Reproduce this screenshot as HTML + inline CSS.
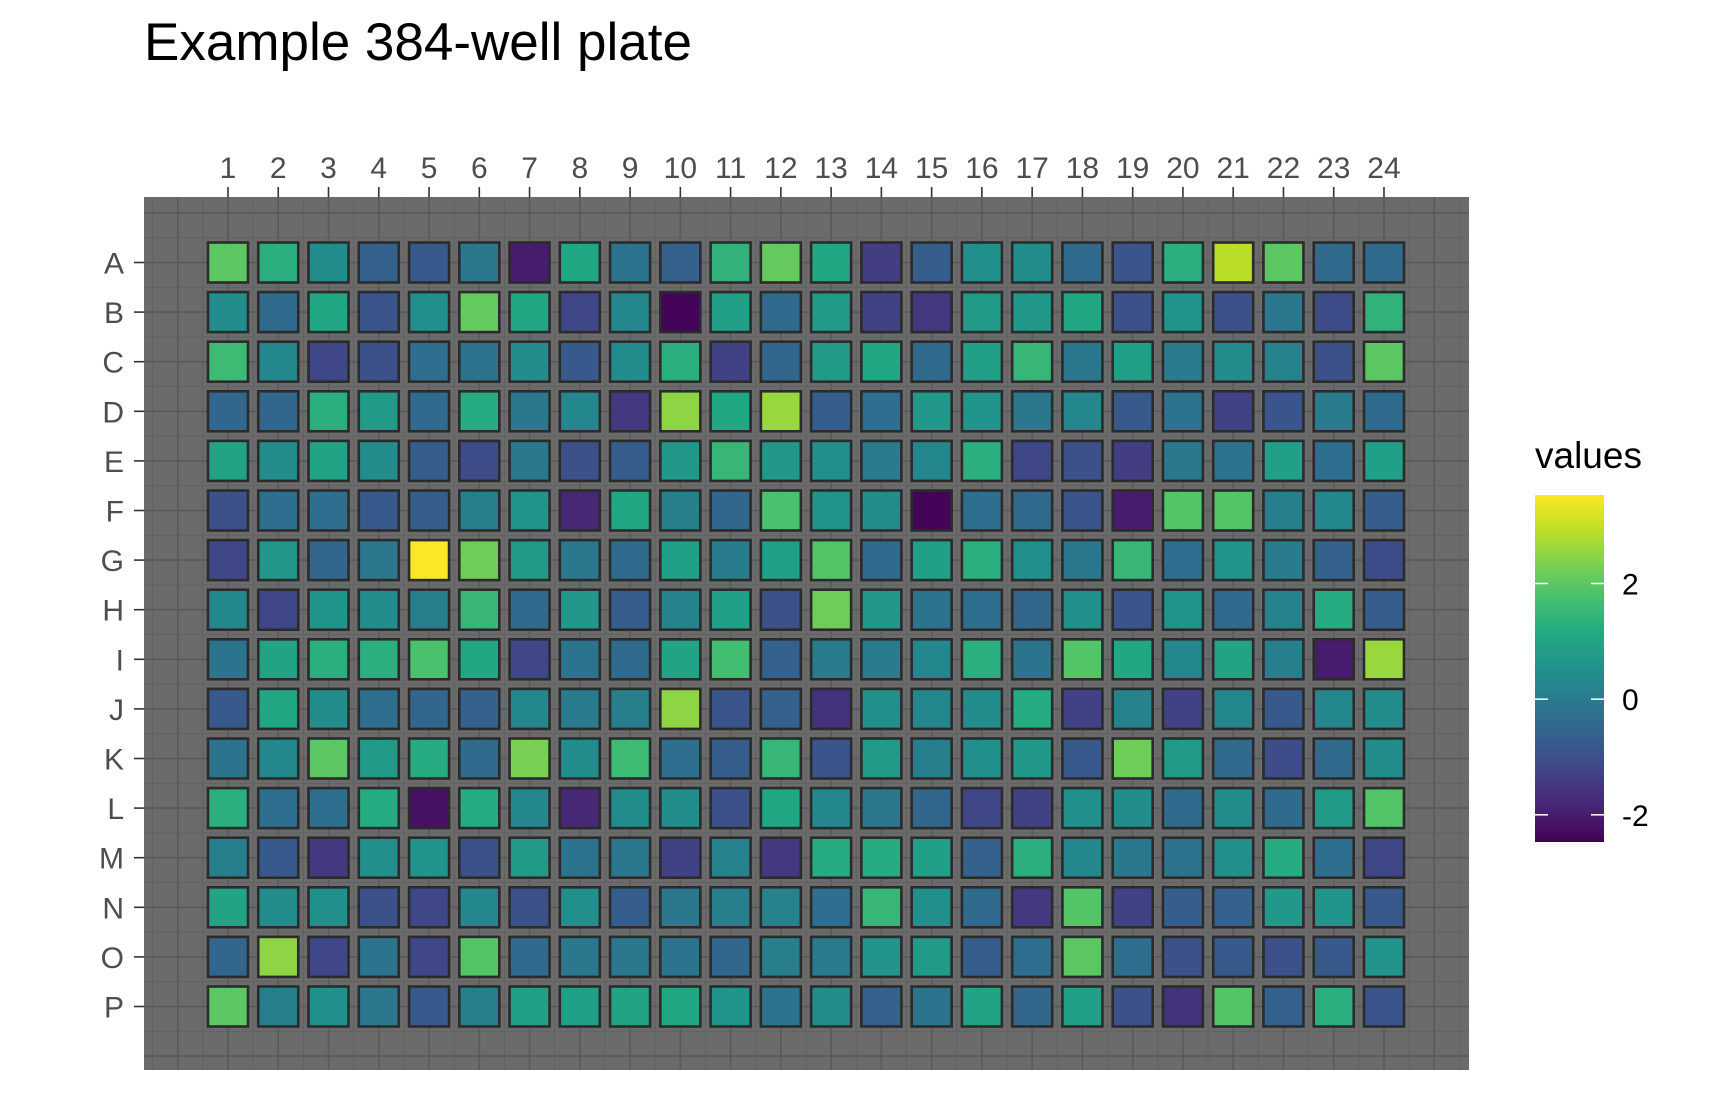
<!DOCTYPE html>
<html><head><meta charset="utf-8"><style>
html,body{margin:0;padding:0;background:#fff;}
svg{display:block;font-family:"Liberation Sans",sans-serif;}
</style></head><body>
<svg id="chart" width="1728" height="1094" viewBox="0 0 1728 1094">
<text x="144" y="60" font-size="53" fill="#000">Example 384-well plate</text>
<g id="panel"></g>
<g id="legend"></g>
</svg>
<script>
const rowLabels = ["A","B","C","D","E","F","G","H","I","J","K","L","M","N","O","P"];
const colLabels = ["1","2","3","4","5","6","7","8","9","10","11","12","13","14","15","16","17","18","19","20","21","22","23","24"];
const legendTicks = [2,0,-2];
const valueRange = [-2.47, 3.53];
const values = [
[2.0,1.3,0.4,-0.6,-0.8,-0.1,-2.0,1.1,-0.2,-0.6,1.4,2.1,1.1,-1.4,-0.7,0.5,0.4,-0.4,-0.9,1.3,2.9,2.0,-0.4,-0.4],
[0.4,-0.4,1.1,-0.9,0.5,2.1,1.1,-1.2,0.3,-2.4,0.9,-0.4,0.8,-1.3,-1.5,0.8,0.7,1.1,-1.0,0.6,-1.0,-0.1,-1.1,1.4],
[1.6,0.3,-1.2,-1.0,-0.3,-0.2,0.4,-0.8,0.4,1.3,-1.3,-0.5,0.8,1.1,-0.4,0.9,1.5,-0.1,0.9,0.0,0.4,0.2,-1.0,2.0],
[-0.5,-0.5,1.3,0.8,-0.4,1.2,-0.1,0.3,-1.5,2.5,1.1,2.6,-0.7,-0.3,0.7,0.6,-0.1,0.3,-0.8,-0.2,-1.3,-0.9,0.0,-0.4],
[1.0,0.4,1.0,0.4,-0.7,-1.1,-0.1,-1.0,-0.7,0.7,1.5,0.7,0.5,0.0,0.3,1.3,-1.2,-1.0,-1.4,-0.1,-0.2,0.9,-0.3,0.9],
[-1.0,-0.3,-0.3,-0.8,-0.7,0.1,0.6,-1.8,1.1,0.1,-0.5,1.8,0.6,0.4,-2.4,-0.3,-0.4,-0.9,-2.0,1.9,1.9,0.1,0.3,-0.7],
[-1.2,0.7,-0.5,-0.1,3.5,2.2,0.8,-0.1,-0.4,0.9,0.0,0.9,1.9,-0.4,0.9,1.3,0.5,-0.1,1.5,-0.3,0.6,0.0,-0.6,-1.1],
[0.3,-1.2,0.6,0.4,0.1,1.5,-0.4,0.7,-0.7,0.2,0.9,-1.0,2.2,0.7,-0.2,-0.3,-0.5,0.5,-0.9,0.6,-0.4,0.2,1.2,-0.7],
[-0.2,1.0,1.3,1.3,1.8,1.1,-1.2,-0.2,-0.4,1.0,1.7,-0.6,0.0,0.0,0.3,1.3,-0.2,1.9,1.1,0.3,1.0,0.1,-2.0,2.6],
[-0.8,1.1,0.4,-0.3,-0.5,-0.6,0.3,0.0,0.1,2.5,-0.9,-0.6,-1.6,0.5,0.3,0.4,1.2,-1.3,0.2,-1.3,0.3,-0.8,0.3,0.4],
[-0.2,0.3,2.0,0.8,1.2,-0.4,2.3,0.4,1.6,-0.3,-0.7,1.5,-0.9,0.8,0.1,0.5,0.7,-0.8,2.2,0.8,-0.4,-1.1,-0.4,0.4],
[1.3,-0.3,-0.3,1.2,-2.2,1.2,0.3,-1.8,0.4,0.4,-1.0,1.1,0.3,-0.1,-0.5,-1.2,-1.3,0.5,0.4,-0.4,0.4,-0.4,0.8,1.9],
[0.1,-0.8,-1.5,0.5,0.6,-1.0,0.8,-0.2,-0.1,-1.3,0.2,-1.5,1.2,1.2,0.9,-0.6,1.3,0.3,-0.1,-0.2,0.5,1.2,-0.3,-1.2],
[1.0,0.4,0.5,-1.0,-1.2,0.3,-1.0,0.5,-0.7,-0.1,0.1,0.2,-0.3,1.5,0.5,-0.4,-1.5,1.9,-1.3,-0.7,-0.6,0.7,0.6,-0.8],
[-0.5,2.5,-1.2,-0.2,-1.2,1.9,-0.4,-0.1,-0.1,-0.2,-0.5,0.1,0.0,0.6,0.8,-0.7,-0.3,2.0,-0.3,-1.0,-0.8,-1.0,-0.8,0.6],
[2.0,0.1,0.5,-0.1,-0.8,0.1,0.9,0.9,1.0,1.1,0.6,-0.2,0.4,-0.6,-0.2,1.0,-0.5,0.9,-1.0,-1.6,1.9,-0.6,1.3,-0.9]
];

const NS="http://www.w3.org/2000/svg";
const vir=["#440154","#482475","#414487","#355f8d","#2a788e","#21918c","#22a884","#44bf70","#7ad151","#bddf26","#fde725"];
function hex(c){return [1,3,5].map(i=>parseInt(c.substr(i,2),16));}
function viridis(t){t=Math.max(0,Math.min(1,t));const p=t*(vir.length-1);const i=Math.min(Math.floor(p),vir.length-2);const f=p-i;const a=hex(vir[i]),b=hex(vir[i+1]);return "rgb("+a.map((v,k)=>Math.round(v+(b[k]-v)*f)).join(",")+")";}
function colorOf(v){return viridis((v-valueRange[0])/(valueRange[1]-valueRange[0]));}
const PX0=144,PX1=1469,PY0=197,PY1=1070;
const xs=c=>228+(c-1)*50.26;
const ys=r=>262.5+r*49.6;
function mk(tag,attrs,parent){const e=document.createElementNS(NS,tag);for(const k in attrs)e.setAttribute(k,attrs[k]);parent.appendChild(e);return e;}
const panel=document.getElementById("panel");
mk("rect",{x:PX0,y:PY0,width:PX1-PX0,height:PY1-PY0,fill:"#6b6b6b"},panel);
for(let c=-0.5;c<=25.5;c+=0.5){const x=xs(c);if(x<PX0||x>PX1)continue;const major=Number.isInteger(c);const l=mk("line",{x1:x,x2:x,y1:PY0,y2:PY1,stroke:major?"#595959":"#616161","stroke-width":major?1.6:0.9},panel);}
for(let r=-1;r<=17;r+=0.5){const y=ys(r);if(y<PY0||y>PY1)continue;const major=Number.isInteger(r);const l=mk("line",{y1:y,y2:y,x1:PX0,x2:PX1,stroke:major?"#595959":"#616161","stroke-width":major?1.6:0.9},panel);}
const S=40;
values.forEach((row,r)=>row.forEach((v,c)=>{
  const e=mk("rect",{x:xs(c+1)-S/2,y:ys(r)-S/2,width:S,height:S,fill:colorOf(v),stroke:"#2b2b2b","stroke-width":2.6},panel);
  
  
}));
colLabels.forEach((lab,i)=>{
  const x=xs(i+1);
  const t=mk("line",{x1:x,x2:x,y1:187,y2:197,stroke:"#333","stroke-width":1.6},panel);
  
  
  const tx=mk("text",{x:x,y:178,"text-anchor":"middle","font-size":30,fill:"#4d4d4d"},panel);
  tx.textContent=lab;
  
  
});
rowLabels.forEach((lab,i)=>{
  const y=ys(i);
  const t=mk("line",{x1:134,x2:144,y1:y,y2:y,stroke:"#333","stroke-width":1.6},panel);
  
  
  const tx=mk("text",{x:124,y:y+11,"text-anchor":"end","font-size":30,fill:"#4d4d4d"},panel);
  tx.textContent=lab;
  
  
});
const leg=document.getElementById("legend");
const LX=1535,LW=69,LY0=495,LY1=842;
const ly=v=>LY1-(v-valueRange[0])/(valueRange[1]-valueRange[0])*(LY1-LY0);
const defs=mk("defs",{},leg);
const grad=mk("linearGradient",{id:"vg",x1:0,y1:1,x2:0,y2:0},defs);
for(let i=0;i<=20;i++){mk("stop",{offset:i/20,"stop-color":viridis(i/20)},grad);}
const lt=mk("text",{x:1535,y:468,"font-size":37,fill:"#000"},leg);
lt.textContent="values";


const bar=mk("rect",{x:LX,y:LY0,width:LW,height:LY1-LY0,fill:"url(#vg)"},leg);


legendTicks.forEach(v=>{
  const y=ly(v);
  mk("line",{x1:LX,x2:LX+13,y1:y,y2:y,stroke:"#fff","stroke-width":1.5},leg);
  mk("line",{x1:LX+LW-13,x2:LX+LW,y1:y,y2:y,stroke:"#fff","stroke-width":1.5},leg);
  const tx=mk("text",{x:1622,y:y+11,"font-size":30,fill:"#000"},leg);
  tx.textContent=String(v);
  
  
});
</script>
</body></html>
